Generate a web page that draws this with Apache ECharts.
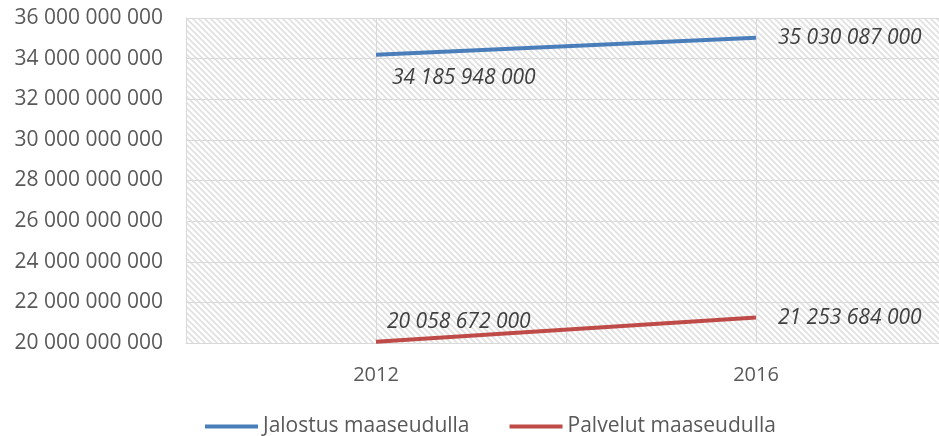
<!DOCTYPE html>
<html><head><meta charset="utf-8">
<script src="https://cdn.jsdelivr.net/npm/echarts@6/dist/echarts.min.js"></script>
<style>html,body{margin:0;padding:0;background:#fff}#c{width:939px;height:436px}</style>
</head><body><div id="c"></div>
<script>
var categories = ['2012', '2016'];
var jalostus = [34185948000, 35030087000];
var palvelut = [20058672000, 21253684000];
var seriesNames = ['Jalostus maaseudulla', 'Palvelut maaseudulla'];
var yMin = 20000000000, yMax = 36000000000, yStep = 2000000000;

function fmt(v) {
  return String(Math.round(v)).replace(/\B(?=(\d{3})+(?!\d))/g, ' ');
}

// hatch pattern
var pc = document.createElement('canvas');
pc.width = 6; pc.height = 6;
var g = pc.getContext('2d');
g.fillStyle = '#ffffff'; g.fillRect(0, 0, 6, 6);
g.strokeStyle = '#e0e0e0'; g.lineWidth = 1.6;
g.beginPath();
g.moveTo(-1, -1); g.lineTo(7, 7);
g.moveTo(-1, 5); g.lineTo(1, 7);
g.moveTo(5, -1); g.lineTo(7, 1);
g.stroke();

var FONT = 'Open Sans';
var labelBase = { show: true, fontFamily: FONT, fontSize: 21, fontStyle: 'italic', color: '#404040', formatter: function (p) { return fmt(p.value); } };

var labelCfg = {
  0: [{ position: 'right', distance: 16, offset: [0, 23] }, { position: 'right', distance: 22, offset: [0, 0] }],
  1: [{ position: 'right', distance: 11, offset: [0, -20] }, { position: 'right', distance: 22, offset: [0, 0] }]
};

function mk(vals, idx) {
  return vals.map(function (v, i) {
    return { value: v, label: Object.assign({}, labelBase, labelCfg[idx][i]) };
  });
}

var chart = echarts.init(document.getElementById('c'), null, { renderer: 'canvas' });
chart.setOption({
  animation: false,
  grid: { left: 186, top: 18, height: 325, width: 760, outerBoundsMode: 'none', containLabel: false,
    show: true, backgroundColor: { image: pc, repeat: 'repeat' }, borderWidth: 0 },
  legend: {
    bottom: -6, left: 200, icon: 'rect', itemWidth: 53, itemHeight: 4, itemGap: 40,
    textStyle: { fontFamily: FONT, fontSize: 21, color: '#595959' },
    data: seriesNames
  },
  xAxis: [
    { type: 'category', data: categories, boundaryGap: true,
      axisLine: { show: true, lineStyle: { color: '#d9d9d9', width: 1 } },
      axisTick: { show: false },
      axisLabel: { fontFamily: FONT, fontSize: 20, color: '#595959', margin: 22 },
      splitLine: { show: false } },
    { type: 'value', min: 0, max: 4, interval: 1, position: 'bottom',
      axisLine: { show: false }, axisTick: { show: false }, axisLabel: { show: false },
      splitLine: { show: true, lineStyle: { color: '#d9d9d9', width: 1 } } }
  ],
  yAxis: {
    type: 'value', min: yMin, max: yMax, interval: yStep,
    axisLine: { show: true, lineStyle: { color: '#d9d9d9' } },
    axisTick: { show: false },
    axisLabel: { fontFamily: FONT, fontSize: 21, color: '#595959', margin: 23, formatter: fmt },
    splitLine: { show: true, lineStyle: { color: '#d9d9d9', width: 1 } }
  },
  series: [
    { name: seriesNames[0], type: 'line', data: mk(jalostus, 0), xAxisIndex: 0,
      symbol: 'circle', symbolSize: 0, showSymbol: true,
      lineStyle: { color: '#4A7EBB', width: 4 }, itemStyle: { color: '#4A7EBB' } },
    { name: seriesNames[1], type: 'line', data: mk(palvelut, 1), xAxisIndex: 0,
      symbol: 'circle', symbolSize: 0, showSymbol: true,
      lineStyle: { color: '#BE4B48', width: 4 }, itemStyle: { color: '#BE4B48' } }
  ]
});
</script></body></html>
